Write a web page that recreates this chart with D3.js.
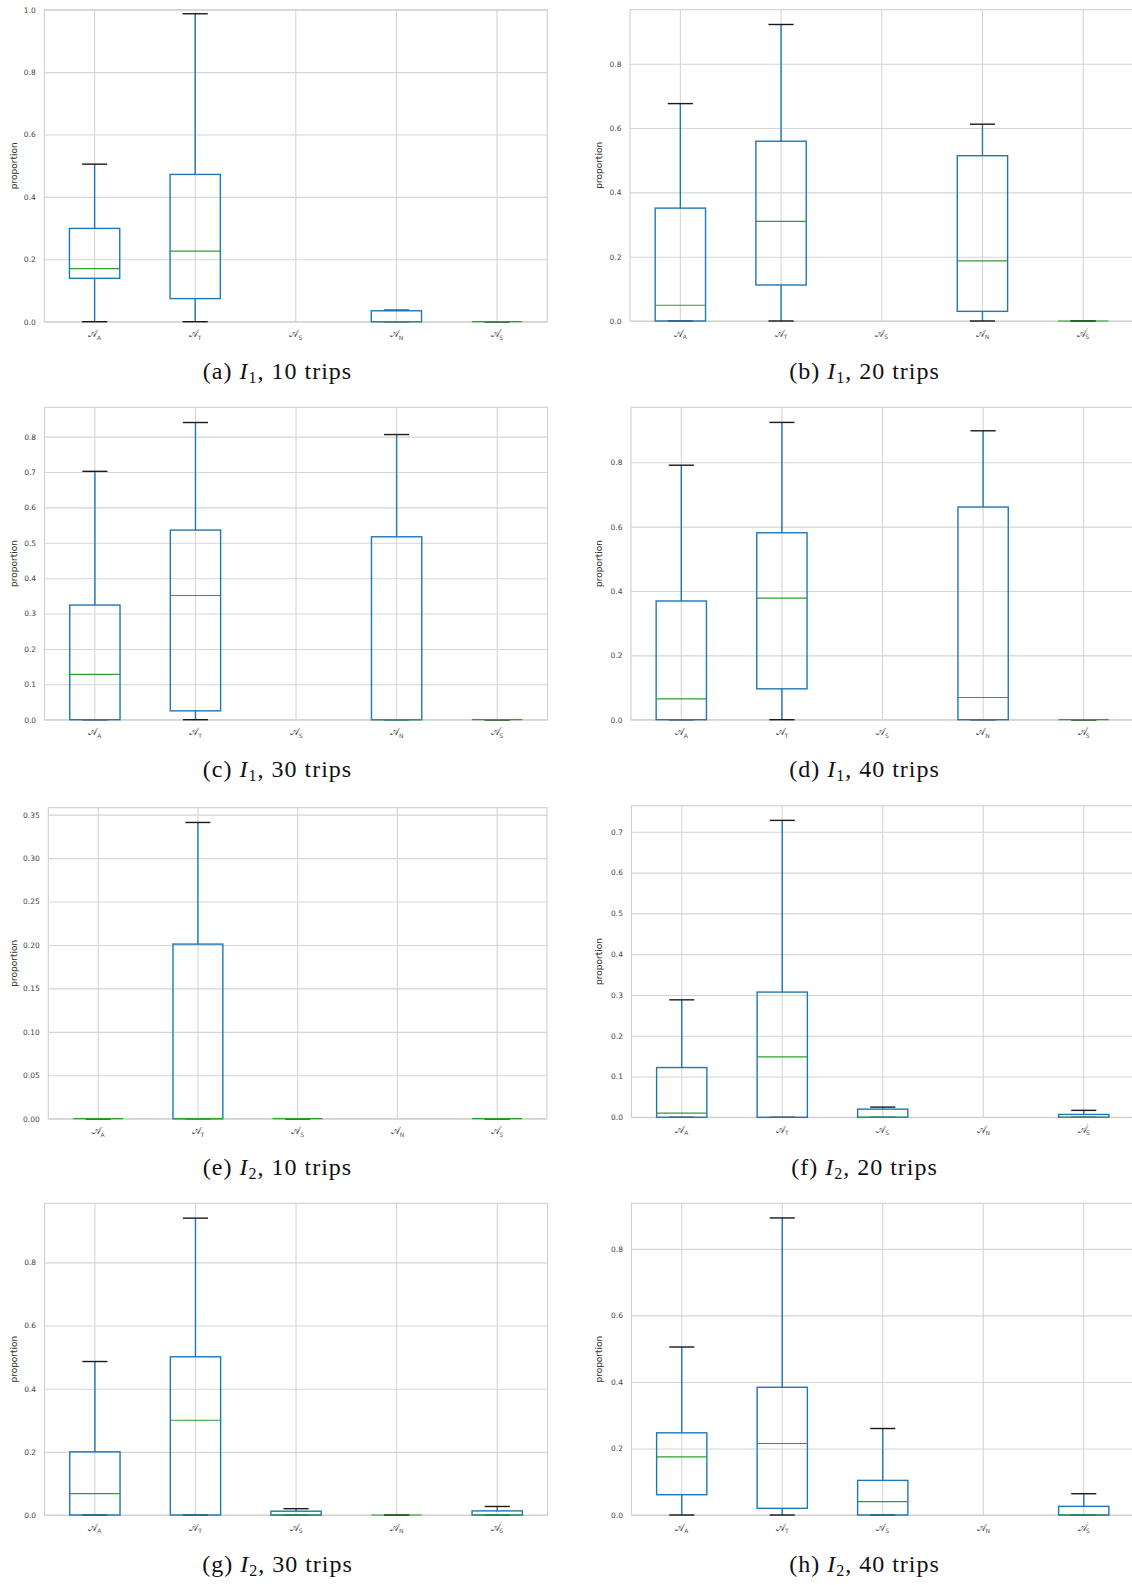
<!DOCTYPE html>
<html>
<head>
<meta charset="utf-8">
<script src="https://cdn.jsdelivr.net/npm/d3@7"></script>
<style>
  body { margin: 0; background: #fff; }
  svg { display: block; }
</style>
</head>
<body>
<script>
// categories on the x axis (subscripts of the calligraphic A)
var categories = ['A', 'T', 'S', 'N', 'S2'];
var catSub = ['A', 'T', 'S', 'N', 'S'];
var catPrime = [false, false, false, false, true];

// captions
var panelLetters = ['a', 'b', 'c', 'd', 'e', 'f', 'g', 'h'];
var instances = ['1', '1', '1', '1', '2', '2', '2', '2'];
var trips = [10, 20, 30, 40, 10, 20, 30, 40];

// y axis upper limit per panel and its tick labels
var yMax = [1.0, 0.968, 0.883, 0.971, 0.358, 0.764, 0.987, 0.937];
var yTicks = [
  ['0.0', '0.2', '0.4', '0.6', '0.8', '1.0'],
  ['0.0', '0.2', '0.4', '0.6', '0.8'],
  ['0.0', '0.1', '0.2', '0.3', '0.4', '0.5', '0.6', '0.7', '0.8'],
  ['0.0', '0.2', '0.4', '0.6', '0.8'],
  ['0.00', '0.05', '0.10', '0.15', '0.20', '0.25', '0.30', '0.35'],
  ['0.0', '0.1', '0.2', '0.3', '0.4', '0.5', '0.6', '0.7'],
  ['0.0', '0.2', '0.4', '0.6', '0.8'],
  ['0.0', '0.2', '0.4', '0.6', '0.8']
];

// box plot statistics, one row per panel, one value per category (null = no data)
var whiskerHigh = [
  [0.505, 0.987, null, 0.037, 0],
  [0.676, 0.922, null, 0.612, 0],
  [0.702, 0.840, null, 0.806, 0],
  [0.791, 0.924, null, 0.898, 0],
  [0, 0.341, 0, null, 0],
  [0.288, 0.728, 0.025, null, 0.017],
  [0.486, 0.940, 0.020, 0, 0.027],
  [0.505, 0.893, 0.260, null, 0.064]
];
var boxHigh = [
  [0.299, 0.472, null, 0.035, 0],
  [0.351, 0.559, null, 0.514, 0],
  [0.324, 0.536, null, 0.517, 0],
  [0.369, 0.581, null, 0.661, 0],
  [0, 0.201, 0, null, 0],
  [0.122, 0.307, 0.020, null, 0.007],
  [0.200, 0.501, 0.012, 0, 0.013],
  [0.247, 0.384, 0.104, null, 0.026]
];
var medians = [
  [0.170, 0.226, null, 0, 0],
  [0.049, 0.310, null, 0.187, 0],
  [0.128, 0.351, null, 0, 0],
  [0.065, 0.378, null, 0.069, 0],
  [0, 0, 0, null, 0],
  [0.010, 0.148, 0, null, 0],
  [0.068, 0.300, 0, 0, 0],
  [0.175, 0.215, 0.040, null, 0]
];
var boxLow = [
  [0.139, 0.074, null, 0, 0],
  [0, 0.112, null, 0.030, 0],
  [0, 0.025, null, 0, 0],
  [0, 0.096, null, 0, 0],
  [0, 0, 0, null, 0],
  [0, 0, 0, null, 0],
  [0, 0, 0, 0, 0],
  [0.061, 0.020, 0, null, 0]
];
var whiskerLow = [
  [0, 0, null, 0, 0],
  [0, 0, null, 0, 0],
  [0, 0, null, 0, 0],
  [0, 0, null, 0, 0],
  [0, 0, 0, null, 0],
  [0, 0, 0, null, 0],
  [0, 0, 0, 0, 0],
  [0, 0, 0, null, 0]
];

// panel frames (plot area) in page pixels
var lefts   = [44.3, 630, 44.6, 631, 48.3, 631.5, 44.6, 631.5];
var rights  = [547.3, 1133.5, 547.5, 1134, 547, 1134, 547.5, 1134];
var tops    = [9.7, 9.7, 407.3, 407.3, 807.7, 805.7, 1203.3, 1203.3];
var bottoms = [321.7, 321, 719.7, 719.7, 1118.7, 1117.3, 1515, 1515];
var captionX = [277.5, 864.5];
var captionY = [379, 776.8, 1174.6, 1572.4];
var ylabelX = [13.5, 599];

var svg = d3.select('body').append('svg').attr('width', 1132).attr('height', 1585);

var gridColor = '#d5d5d5';
var blue = '#1f77b4', green = '#2ca02c';

panelLetters.forEach(function(letter, i) {
  var col = i % 2, row = Math.floor(i / 2);
  var L = lefts[i], R = rights[i], T = tops[i], B = bottoms[i];

  var x = d3.scaleBand().domain(categories).range([L, R]);
  var bw = x.bandwidth();
  var cx = function(c) { return x(c) + bw / 2; };
  var y = d3.scaleLinear().domain([0, yMax[i]]).range([B, T]);

  var g = svg.append('g');

  // horizontal grid + y tick labels
  var tickVals = yTicks[i].map(Number);
  var yAxis = g.append('g')
    .attr('transform', 'translate(' + L + ',0)')
    .call(d3.axisLeft(y).tickValues(tickVals)
      .tickFormat(function(d, k) { return yTicks[i][k]; })
      .tickSizeInner(-(R - L)).tickSizeOuter(0).tickPadding(8.5));
  yAxis.select('.domain').remove();
  yAxis.selectAll('line').attr('stroke', gridColor).attr('stroke-width', 1.1);
  yAxis.selectAll('text')
    .attr('font-family', 'DejaVu Sans').attr('font-size', 7.5).attr('fill', '#444');

  // vertical grid + x labels
  var xAxis = g.append('g')
    .attr('transform', 'translate(0,' + B + ')')
    .call(d3.axisBottom(x).tickSizeInner(-(B - T)).tickSizeOuter(0).tickFormat(''));
  xAxis.select('.domain').remove();
  xAxis.selectAll('line').attr('stroke', gridColor).attr('stroke-width', 1.1);

  categories.forEach(function(c, k) {
    var t = g.append('text')
      .attr('x', cx(c)).attr('y', B + 15.5)
      .attr('text-anchor', 'middle')
      .attr('font-family', 'DejaVu Sans').attr('fill', '#555');
    t.append('tspan').attr('font-size', 10).text('\uD835\uDC9C');
    if (catPrime[k]) {
      t.append('tspan').attr('font-size', 7).attr('dy', -3.5).text('\u2032');
      t.append('tspan').attr('font-size', 6).attr('dx', -2.5).attr('dy', 6).text(catSub[k]);
    } else {
      t.append('tspan').attr('font-size', 6).attr('dy', 2.5).text(catSub[k]);
    }
  });

  // frame
  g.append('rect')
    .attr('x', L).attr('y', T).attr('width', R - L).attr('height', B - T)
    .attr('fill', 'none').attr('stroke', '#cfcfcf').attr('stroke-width', 1.1);

  // y label
  g.append('text')
    .attr('transform', 'translate(' + ylabelX[col] + ',' + ((T + B) / 2) + ') rotate(-90)')
    .attr('text-anchor', 'middle').attr('dy', '0.35em')
    .attr('font-family', 'DejaVu Sans').attr('font-size', 9).attr('fill', '#333')
    .text('proportion');

  // boxes
  var stats = categories.map(function(c, k) {
    return { c: c, wh: whiskerHigh[i][k], q3: boxHigh[i][k], med: medians[i][k],
             q1: boxLow[i][k], wl: whiskerLow[i][k] };
  }).filter(function(d) { return d.wh !== null; });

  var bx = g.selectAll('g.box').data(stats).enter().append('g').attr('class', 'box');

  // whiskers
  bx.append('line')
    .attr('x1', d => cx(d.c)).attr('x2', d => cx(d.c))
    .attr('y1', d => y(d.q3)).attr('y2', d => y(d.wh))
    .attr('stroke', blue).attr('stroke-width', 1.4);
  bx.append('line')
    .attr('x1', d => cx(d.c)).attr('x2', d => cx(d.c))
    .attr('y1', d => y(d.q1)).attr('y2', d => y(d.wl))
    .attr('stroke', blue).attr('stroke-width', 1.4);
  // caps
  [ 'wh', 'wl' ].forEach(function(key) {
    bx.append('line')
      .attr('x1', d => cx(d.c) - bw * 0.125).attr('x2', d => cx(d.c) + bw * 0.125)
      .attr('y1', d => y(d[key])).attr('y2', d => y(d[key]))
      .attr('stroke', '#1a1a1a').attr('stroke-width', 1.4);
  });
  // box
  bx.append('rect')
    .attr('x', d => cx(d.c) - bw * 0.25).attr('width', bw * 0.5)
    .attr('y', d => y(d.q3)).attr('height', d => y(d.q1) - y(d.q3))
    .attr('fill', 'none').attr('stroke', blue).attr('stroke-width', 1.4);
  // median
  bx.append('line')
    .attr('x1', d => cx(d.c) - bw * 0.25).attr('x2', d => cx(d.c) + bw * 0.25)
    .attr('y1', d => y(d.med)).attr('y2', d => y(d.med))
    .attr('stroke', green).attr('stroke-width', 1.2);

  // caption
  var cap = svg.append('text')
    .attr('x', captionX[col]).attr('y', captionY[row])
    .attr('text-anchor', 'middle')
    .attr('font-family', 'Liberation Serif').attr('font-size', 24)
    .attr('letter-spacing', 1).attr('fill', '#111');
  cap.append('tspan').text('(' + letter + ') ');
  cap.append('tspan').attr('font-style', 'italic').text('I');
  cap.append('tspan').attr('font-size', 16).attr('dy', 4).text(instances[i]);
  cap.append('tspan').attr('dy', -4).text(', ' + trips[i] + ' trips');
});
</script>
</body>
</html>
